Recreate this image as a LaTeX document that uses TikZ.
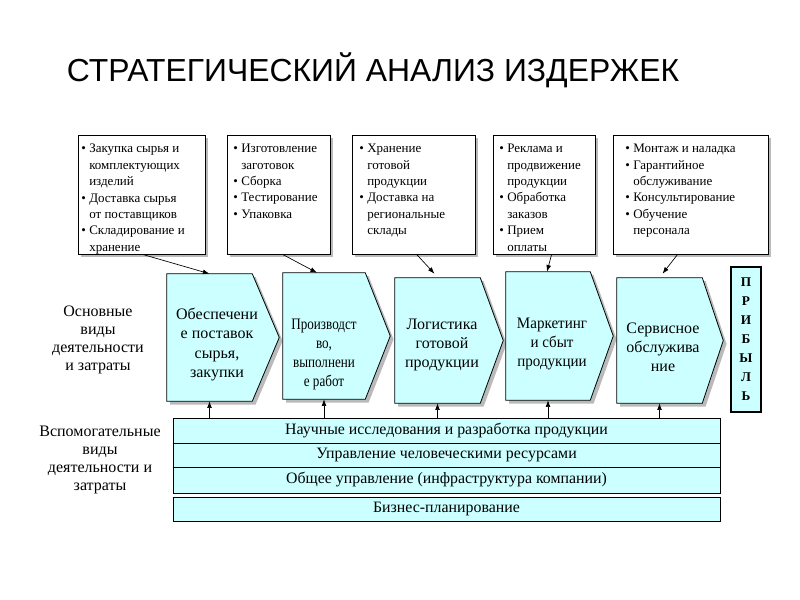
\documentclass[tikz,border=0pt]{standalone}
\usepackage{fontspec}
\setmainfont{Liberation Serif}
\newfontfamily\titlefont{Liberation Sans}
\usetikzlibrary{calc,shadows,backgrounds,arrows.meta,fit}
\definecolor{cyanfill}{HTML}{CCFFFF}
\newcommand\myb{\makebox[6pt][l]{•}}
\newcommand\myi{\hspace*{6pt}}
\newcommand\pxu{0.75pt}
\tikzset{
  arr/.style={-{Latex[length=5pt,width=3.6pt]}, line width=0.5pt},
  topbox/.style={draw=black, line width=0.6pt, fill=white, inner sep=0pt,
    drop shadow={shadow xshift=2pt, shadow yshift=-2pt, fill=black!45, opacity=.6}},
  boxtxt/.style={font=\fontsize{9.75}{12.3}\selectfont, align=left, inner sep=0pt, anchor=north west},
  chevn/.style={inner sep=0pt, draw=none},
  chevfill/.style={fill=cyanfill, draw=black, line width=0.6pt, sharp corners, line join=miter,
    drop shadow={shadow xshift=2.5pt, shadow yshift=-2.5pt, fill=black!45, opacity=.6}},
  chevtxt/.style={font=\fontsize{12}{14.3}\selectfont, align=center, inner sep=0pt},
  lbl/.style={font=\fontsize{12}{13.5}\selectfont, align=center, inner sep=0pt},
  barbox/.style={draw=black, line width=0.6pt, fill=cyanfill, inner sep=0pt,
    minimum width=547*\pxu, font=\fontsize{11.9}{13}\selectfont},
  pribbox/.style={draw=black, line width=2.2pt, fill=cyanfill, inner sep=0pt, align=center,
    minimum width=30*\pxu, minimum height=145*\pxu,
    font=\bfseries\fontsize{10}{14.25}\selectfont}
}
\begin{document}
\begin{tikzpicture}[x=0.75pt,y=-0.75pt]
\useasboundingbox (0,0) rectangle (800,600);

% title
\node[font=\titlefont\fontsize{23.9}{28}\selectfont, inner sep=0pt] (title) at (373,70) {СТРАТЕГИЧЕСКИЙ АНАЛИЗ ИЗДЕРЖЕК};

% top boxes
\node[topbox, fit={(78,135) (205,254)}] (b1) {};
\node[topbox, fit={(227,135) (330,254)}] (b2) {};
\node[topbox, fit={(352,135) (475,254)}] (b3) {};
\node[topbox, fit={(493,135) (595,254)}] (b4) {};
\node[topbox, fit={(613,135) (768,254)}] (b5) {};

\node[boxtxt] (t1) at (81,144) {\myb Закупка сырья и\\\myi комплектующих\\\myi изделий\\\myb Доставка сырья\\\myi от поставщиков\\\myb Складирование и\\\myi хранение};
\node[boxtxt] (t2) at (233,144) {\myb Изготовление\\\myi заготовок\\\myb Сборка\\\myb Тестирование\\\myb Упаковка};
\node[boxtxt] (t3) at (359,144) {\myb Хранение\\\myi готовой\\\myi продукции\\\myb Доставка на\\\myi региональные\\\myi склады};
\node[boxtxt] (t4) at (499,144) {\myb Реклама и\\\myi продвижение\\\myi продукции\\\myb Обработка\\\myi заказов\\\myb Прием\\\myi оплаты};
\node[boxtxt] (t5) at (625,144) {\myb Монтаж и наладка\\\myb Гарантийное\\\myi обслуживание\\\myb Консультирование\\\myb Обучение\\\myi персонала};

% chevrons
\node[chevn, fit={(167,274) (252,401)}] (c1) {};
\node[chevn, fit={(283,273) (365,399)}] (c2) {};
\node[chevn, fit={(395,278) (480,403)}] (c3) {};
\node[chevn, fit={(506,272) (590,400)}] (c4) {};
\node[chevn, fit={(617,278) (702,403)}] (c5) {};
\begin{pgfonlayer}{background}
\path[chevfill] (c1.north west) -- (c1.north east) -- ($(c1.east)+(27,0)$) -- (c1.south east) -- (c1.south west) -- cycle;
\path[chevfill] (c2.north west) -- (c2.north east) -- ($(c2.east)+(25,0)$) -- (c2.south east) -- (c2.south west) -- cycle;
\path[chevfill] (c3.north west) -- (c3.north east) -- ($(c3.east)+(23,0)$) -- (c3.south east) -- (c3.south west) -- cycle;
\path[chevfill] (c4.north west) -- (c4.north east) -- ($(c4.east)+(23,0)$) -- (c4.south east) -- (c4.south west) -- cycle;
\path[chevfill] (c5.north west) -- (c5.north east) -- ($(c5.east)+(21,0)$) -- (c5.south east) -- (c5.south west) -- cycle;
\end{pgfonlayer}
\node[chevtxt] (ct1) at (217,344.5) {Обеспечени\\е поставок\\сырья,\\закупки};
\node[chevtxt] (ct2) at (324,354.5) {\scalebox{0.82}[1]{\begin{tabular}{@{}c@{}}Производст\\во,\\выполнени\\е работ\end{tabular}}};
\node[chevtxt] (ct3) at (442,345) {Логистика\\готовой\\продукции};
\node[chevtxt] (ct4) at (552,344) {\scalebox{0.94}[1]{\begin{tabular}{@{}c@{}}Маркетинг\\и сбыт\\продукции\end{tabular}}};
\node[chevtxt] (ct5) at (663,347.5) {Сервисное\\обслужива\\ние};

% profit
\node[pribbox] (p) at (746,339.5) {П\\Р\\И\\Б\\Ы\\Л\\Ь};

% support bars
\node[barbox, minimum height=25*\pxu] (r1) at (446.5,430.5) {Научные исследования и разработка продукции};
\node[barbox, minimum height=24*\pxu] (r2) at (446.5,455) {Управление человеческими ресурсами};
\node[barbox, minimum height=26*\pxu] (r3) at (446.5,480) {Общее управление (инфраструктура компании)};
\node[barbox, minimum height=24*\pxu] (r4) at (446.5,509) {Бизнес-планирование};

% left labels
\node[lbl] (l1) at (98,340) {Основные\\виды\\деятельности\\и затраты};
\node[lbl] (l2) at (100,460) {Вспомогательные\\виды\\деятельности и\\затраты};

% connectors from top boxes
\draw[arr] ($(b1.south west)+(65,0)$) -- (c1.north);
\draw[arr] ($(b2.south west)+(56,0)$) -- ($(c2.north)+(-7,0)$);
\draw[arr] ($(b3.south west)+(65,0)$) -- ($(c3.north)+(-3,-4)$);
\draw[arr] ($(b4.south west)+(59,0)$) -- ($(c4.north)+(-1,0)$);
\draw[arr] ($(b5.south west)+(65,0)$) -- ($(c5.north)+(3,-4)$);

% connectors from support bars
\draw[arr] (r1.north -| c1.south) -- (c1.south);
\draw[arr] (r1.north -| c2.south) -- (c2.south);
\draw[arr] (r1.north -| c3.south) -- (c3.south);
\draw[arr] (r1.north -| c4.south) -- (c4.south);
\draw[arr] (r1.north -| c5.south) -- (c5.south);
\end{tikzpicture}
\end{document}
